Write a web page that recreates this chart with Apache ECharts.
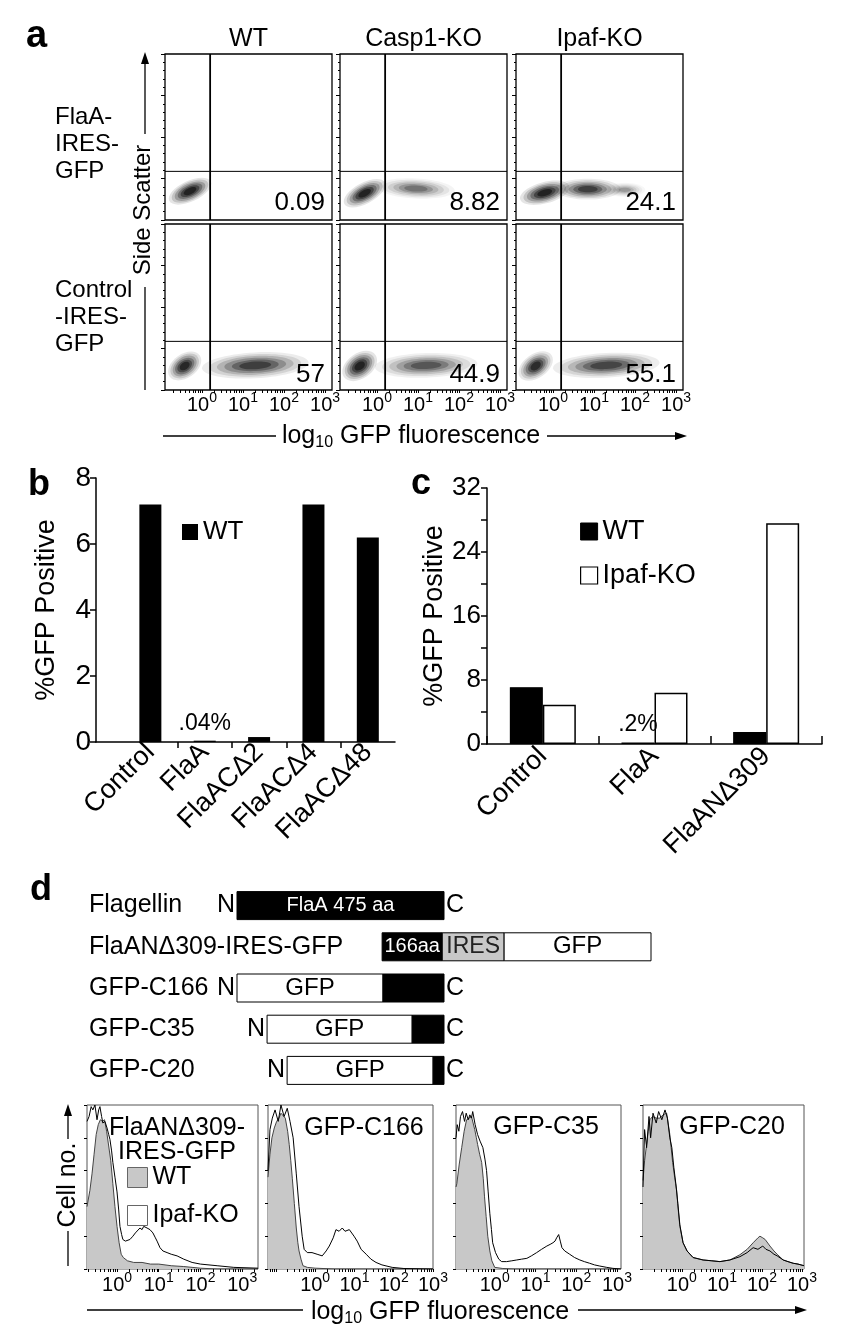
<!DOCTYPE html>
<html>
<head>
<meta charset="utf-8">
<title>Flagellin / Ipaf GFP figure</title>
<script src="https://cdn.jsdelivr.net/npm/echarts@6.0.0/dist/echarts.min.js"></script>
<style>
html,body{margin:0;padding:0;background:#fff;}
#chart{width:848px;height:1338px;}
</style>
</head>
<body>
<div id="chart"></div>
<script>
// ======================= DATA =======================
// ---- Panel a: flow cytometry dot plots ----
const aColumnTitles = ['WT', 'Casp1-KO', 'Ipaf-KO'];
const aRowTitles = ['FlaA-\nIRES-\nGFP', 'Control\n-IRES-\nGFP'];
const aPercentGFP = [['0.09', '8.82', '24.1'], ['57', '44.9', '55.1']];
const aDecades = [0, 1, 2, 3];
const aGateGFPLog = 0.2;
const aGateSSC = 300;
// cell clouds: [log10 GFP centre, side-scatter centre, log10 spread, SSC spread, tilt (deg), relative density]
const aCloudsFlaAWT    = [[-0.29, 178, 0.56, 64, 25, 1.0]];
const aCloudsFlaACasp1 = [[-0.3, 165, 0.56, 64, 28, 1.0], [0.95, 194, 0.95, 62, -3, 0.45]];
const aCloudsFlaAIpaf  = [[-0.2, 168, 0.62, 66, 15, 1.0], [0.85, 190, 0.8, 64, 0, 0.75], [1.75, 186, 0.5, 44, 0, 0.3]];
const aCloudsCtrlWT    = [[-0.42, 148, 0.45, 74, 35, 0.95], [1.3, 152, 1.3, 80, 3, 0.75]];
const aCloudsCtrlCasp1 = [[-0.42, 148, 0.47, 78, 35, 1.0], [1.2, 152, 1.25, 76, 2, 0.6]];
const aCloudsCtrlIpaf  = [[-0.42, 148, 0.47, 74, 35, 0.9], [1.3, 152, 1.3, 76, 3, 0.7]];
const aClouds = [[aCloudsFlaAWT, aCloudsFlaACasp1, aCloudsFlaAIpaf], [aCloudsCtrlWT, aCloudsCtrlCasp1, aCloudsCtrlIpaf]];

// ---- Panel b ----
const bCategories = ['Control', 'FlaA', 'FlaACΔ2', 'FlaACΔ4', 'FlaACΔ48'];
const bWT = [7.2, 0.04, 0.15, 7.2, 6.2];
const bNotes = ['', '.04%', '', '', ''];

// ---- Panel c ----
const cCategories = ['Control', 'FlaA', 'FlaANΔ309'];
const cWT = [7.1, 0.2, 1.5];
const cIpafKO = [4.9, 6.4, 27.6];
const cNotes = ['', '.2%', ''];

// ---- Panel d: constructs (schematic units) ----
const dConstructs = ['Flagellin', 'FlaANΔ309-IRES-GFP', 'GFP-C166', 'GFP-C35', 'GFP-C20'];
const dSegments = [
  [[0, 475, 'FlaA', 'FlaA 475 aa']],
  [[333, 471, 'FlaA', '166aa'], [471, 613, 'IRES', 'IRES'], [613, 950, 'GFP', 'GFP']],
  [[0, 335, 'GFP', 'GFP'], [335, 475, 'FlaA', '']],
  [[69, 402, 'GFP', 'GFP'], [402, 475, 'FlaA', '']],
  [[115, 450, 'GFP', 'GFP'], [450, 475, 'FlaA', '']]
];
const dTermini = [true, false, true, true, true];

// ---- Panel d: histograms [log10 GFP, % of max] ----
const hTitles = ['FlaANΔ309-\nIRES-GFP', 'GFP-C166', 'GFP-C35', 'GFP-C20'];
const h1WT = [[-0.72,38],[-0.65,48],[-0.6,58],[-0.55,70],[-0.5,82],[-0.45,88],[-0.4,91],[-0.35,90],[-0.3,91],[-0.25,84],[-0.2,75],[-0.15,66],[-0.1,52],[-0.05,38],[0,26],[0.05,16],[0.1,9],[0.15,7],[0.25,5],[0.4,4],[0.6,4],[0.8,3],[1.0,3],[1.3,2],[1.6,1.5],[2.0,0.5],[2.4,0],[3.38,0]];
const h1Ipaf = [[-0.72,90],[-0.67,93],[-0.62,99],[-0.58,97],[-0.53,100],[-0.48,91],[-0.44,97],[-0.41,99],[-0.37,93],[-0.34,89],[-0.29,90],[-0.24,86],[-0.2,82],[-0.17,79],[-0.13,72],[-0.1,65],[-0.05,56],[0,47],[0.04,36],[0.07,26],[0.11,21],[0.14,18],[0.2,17],[0.24,17],[0.31,18],[0.38,20],[0.44,22],[0.48,23],[0.55,25],[0.6,24],[0.64,26],[0.68,25],[0.72,25],[0.79,24],[0.86,22],[0.92,19],[0.96,17],[1.03,13],[1.1,11],[1.2,10],[1.3,9],[1.44,8],[1.6,6],[1.8,4],[2.0,3],[2.4,2],[2.8,1],[3.38,0.5]];
const h2WT = [[-1.2,56],[-1.15,70],[-1.1,80],[-1.04,86],[-0.98,90],[-0.92,92],[-0.87,95],[-0.82,94],[-0.76,92],[-0.7,84],[-0.66,76],[-0.62,66],[-0.58,55],[-0.53,40],[-0.48,25],[-0.44,16],[-0.41,11],[-0.36,6],[-0.31,2],[-0.2,1],[0,0.5],[0.5,0],[3.0,0]];
const h2Ipaf = [[-1.2,60],[-1.15,85],[-1.09,92],[-1.02,97],[-0.94,90],[-0.87,100],[-0.79,93],[-0.71,98],[-0.64,90],[-0.56,80],[-0.48,58],[-0.41,38],[-0.33,20],[-0.28,12],[-0.2,10],[-0.08,10],[0.05,9],[0.18,8],[0.28,11],[0.36,14],[0.46,19],[0.53,24],[0.61,23],[0.69,25],[0.76,23],[0.87,24],[0.99,20],[1.07,17],[1.17,12],[1.3,9],[1.42,6],[1.55,4],[1.7,2.5],[1.96,1],[2.26,0.3],[2.9,0],[3.0,0]];
const h3WT = [[-0.95,50],[-0.93,52],[-0.87,64],[-0.81,74],[-0.75,84],[-0.69,91],[-0.63,92],[-0.57,93],[-0.53,89],[-0.49,85],[-0.45,80],[-0.42,76],[-0.37,70],[-0.32,65],[-0.28,55],[-0.25,44],[-0.21,32],[-0.17,20],[-0.12,11],[-0.07,5],[0,1],[0.2,0.3],[0.5,0],[3.1,0]];
const h3Ipaf = [[-0.95,80],[-0.92,88],[-0.88,84],[-0.84,93],[-0.79,96],[-0.74,90],[-0.7,95],[-0.65,91],[-0.61,94],[-0.57,92],[-0.54,96],[-0.48,88],[-0.42,82],[-0.36,78],[-0.29,74],[-0.24,67],[-0.2,60],[-0.16,47],[-0.12,34],[-0.08,24],[-0.05,16],[0.02,10],[0.1,6],[0.17,4.5],[0.29,4.5],[0.42,5],[0.54,5.5],[0.66,6],[0.79,6.5],[0.9,8],[1.03,10],[1.15,12],[1.28,14],[1.36,15],[1.43,16],[1.48,17],[1.52,19],[1.57,21],[1.61,17],[1.65,13],[1.72,11],[1.84,9],[1.96,7],[2.09,5.5],[2.2,4.5],[2.33,3.5],[2.45,2.5],[2.58,1.8],[2.75,1],[2.9,0.4],[3.1,0]];
const h4WT = [[-0.97,54],[-0.93,66],[-0.88,76],[-0.84,84],[-0.8,91],[-0.73,93],[-0.64,92],[-0.55,92],[-0.47,94],[-0.38,95],[-0.3,82],[-0.23,65],[-0.18,56],[-0.13,48],[-0.09,36],[-0.05,26],[0.03,16],[0.13,11],[0.28,7],[0.53,5.5],[0.75,5],[0.95,4.5],[1.2,5.5],[1.45,8.7],[1.63,12],[1.78,16],[1.9,19],[1.95,20],[2.02,19],[2.08,18],[2.2,14],[2.3,11],[2.38,9],[2.53,5.5],[2.65,4.5],[2.78,3.5],[2.9,3],[3.05,2]];
const h4Ipaf = [[-0.97,50],[-0.93,85],[-0.88,74],[-0.82,93],[-0.78,80],[-0.72,95],[-0.64,89],[-0.58,96],[-0.5,91],[-0.42,97],[-0.36,92],[-0.3,80],[-0.25,74],[-0.2,62],[-0.15,52],[-0.1,40],[-0.05,27],[0.03,16],[0.13,11],[0.28,7],[0.53,5.5],[0.75,5],[0.95,4.5],[1.2,5.5],[1.45,7.5],[1.63,10],[1.78,13],[1.9,12],[2.02,14],[2.1,12],[2.2,11],[2.3,9],[2.38,8],[2.53,5.5],[2.65,4.5],[2.78,3.5],[2.9,3],[3.05,2]];
const hWT = [h1WT, h2WT, h3WT, h4WT];
const hIpaf = [h1Ipaf, h2Ipaf, h3Ipaf, h4Ipaf];

// ======================= LAYOUT / STYLE =======================
const FONT = '"Liberation Sans", Arial, Helvetica, sans-serif';
const aLeft = [165, 340, 516], aTop = [54, 224], aW = 167, aH = 166;
const aXRange = [-0.9, 3.17];
const hBoxes = [[87, 171, -0.72, 3.38], [268, 165, -1.2, 3.0], [456, 165, -0.95, 3.1], [643, 161, -0.97, 3.05]];
const hTop = 1105, hH = 164;
const kindStyle = {
  FlaA: {fill: '#000', text: '#fff', size: 20},
  IRES: {fill: '#c8c8c8', text: '#222', size: 23},
  GFP:  {fill: '#fff', text: '#000', size: 24}
};

function logTicks(min, max) {
  const out = [];
  for (let n = -2; n <= 4; n++) for (let k = 1; k <= 9; k++) {
    const v = n + Math.log10(k);
    if (v >= min && v <= max) out.push(+v.toFixed(4));
  }
  return out;
}
const supRich = {s: {fontSize: 14, lineHeight: 14, padding: [0, 0, 13, 0], fontFamily: FONT, color: '#000'}};

const grids = [], xAxes = [], yAxes = [], series = [];
const G = [];
function addText(x, y, text, size, o = {}) {
  G.push({type: 'text', x, y, rotation: o.rot || 0, silent: true, z: 20,
    style: {text, fontSize: size, fontFamily: FONT, fontWeight: o.bold ? 'bold' : 'normal', fill: o.color || '#000',
      textAlign: o.align || 'center', textVerticalAlign: o.valign || 'middle', lineHeight: o.lh, rich: o.rich}});
}
function addLine(x1, y1, x2, y2, w) {
  G.push({type: 'line', silent: true, z: 20, shape: {x1, y1, x2, y2}, style: {stroke: '#000', lineWidth: w || 1.3}});
}
function addArrow(points) {
  G.push({type: 'polygon', silent: true, z: 20, shape: {points}, style: {fill: '#000'}});
}

// ---------- panel a ----------
const cloudLayers = [1, 0.86, 0.72, 0.58, 0.44, 0.3], cloudAlpha = [0.1, 0.14, 0.2, 0.28, 0.38, 0.5];
for (let r = 0; r < 2; r++) {
  for (let c = 0; c < 3; c++) {
    const gi = grids.length;
    grids.push({left: aLeft[c], top: aTop[r], width: aW, height: aH, show: true, borderColor: '#000', borderWidth: 1.3, backgroundColor: '#fff'});
    xAxes.push({gridIndex: gi, type: 'value', min: aXRange[0], max: aXRange[1],
      axisLine: {show: false, onZero: false}, splitLine: {show: false},
      axisTick: r === 1 ? {show: true, customValues: logTicks(aXRange[0], aXRange[1]), length: 3, lineStyle: {color: '#000'}} : {show: false},
      axisLabel: r === 1 ? {show: true, customValues: aDecades, formatter: v => '10{s|' + v + '}', fontSize: 20, color: '#000', fontFamily: FONT, margin: 5, rich: supRich} : {show: false}});
    yAxes.push({gridIndex: gi, type: 'value', min: 0, max: 1024, interval: 256,
      axisLine: {show: false, onZero: false}, splitLine: {show: false}, axisLabel: {show: false},
      axisTick: {show: true, length: 4, lineStyle: {color: '#000'}},
      minorTick: {show: true, splitNumber: 5, length: 2, lineStyle: {color: '#000'}}});
    series.push({type: 'custom', xAxisIndex: gi, yAxisIndex: gi, clip: true, silent: true,
      data: aClouds[r][c],
      encode: {x: 0, y: 1},
      renderItem: (params, api) => {
        const p = api.coord([api.value(0), api.value(1)]);
        const sz = api.size([api.value(2), api.value(3)]);
        const ang = api.value(4) * Math.PI / 180, d = api.value(5);
        return {type: 'group', children: cloudLayers.map((s, i) => ({
          type: 'ellipse', x: p[0], y: p[1], rotation: ang,
          shape: {cx: 0, cy: 0, rx: sz[0] * s, ry: sz[1] * s},
          style: {fill: 'rgba(0,0,0,' + Math.min(1, cloudAlpha[i] * d).toFixed(3) + ')'}}))};
      }});
    series.push({type: 'line', xAxisIndex: gi, yAxisIndex: gi, silent: true, symbol: 'none',
      data: [[aGateGFPLog, 0], [aGateGFPLog, 1024]], lineStyle: {color: '#000', width: 1.8}, z: 5});
    series.push({type: 'line', xAxisIndex: gi, yAxisIndex: gi, silent: true, symbol: 'none',
      data: [[aXRange[0], aGateSSC], [aXRange[1], aGateSSC]], lineStyle: {color: '#000', width: 1}, z: 5});
    addText(aLeft[c] + aW - 7, aTop[r] + aH - (r === 0 ? 17 : 15), aPercentGFP[r][c], 26, {align: 'right'});
  }
}
aColumnTitles.forEach((t, c) => addText(aLeft[c] + aW / 2, 39, t, 25));
addText(55, 144, aRowTitles[0], 24, {align: 'left', lh: 27});
addText(55, 317, aRowTitles[1], 24, {align: 'left', lh: 27});
addText(26, 37, 'a', 38, {align: 'left', bold: true});
addText(143, 210, 'Side Scatter', 24, {rot: Math.PI / 2});
addLine(145, 62, 145, 134); addArrow([[145, 52], [141, 64], [149, 64]]);
addLine(145, 287, 145, 390);
addText(411, 436, 'log{sub|10} GFP fluorescence', 25, {rich: {sub: {fontSize: 16, lineHeight: 16, padding: [14, 0, 0, 0], fontFamily: FONT, color: '#000'}}});
addLine(163, 436, 276, 436); addLine(547, 436, 678, 436); addArrow([[687, 436], [675, 432], [675, 440]]);

// ---------- panel b ----------
{
  const gi = grids.length;
  grids.push({left: 96, top: 478, width: 299, height: 264});
  xAxes.push({gridIndex: gi, type: 'value', min: -1, max: 4.5, splitLine: {show: false},
    axisLine: {show: true, onZero: false, lineStyle: {color: '#000', width: 1.5}},
    axisTick: {show: true, customValues: [0.5, 1.5, 2.5, 3.5], length: 6, lineStyle: {color: '#000', width: 1.5}},
    axisLabel: {customValues: bCategories.map((_, i) => i), formatter: v => bCategories[Math.round(v)], rotate: 45, fontSize: 27, color: '#000', fontFamily: FONT, margin: 6}});
  yAxes.push({gridIndex: gi, type: 'value', min: 0, max: 8, interval: 2, splitLine: {show: false},
    axisLine: {show: true, onZero: false, lineStyle: {color: '#000', width: 1.5}},
    axisTick: {show: true, length: 6, lineStyle: {color: '#000', width: 1.5}},
    axisLabel: {fontSize: 28, color: '#000', fontFamily: FONT, margin: 5},
    name: '%GFP Positive', nameLocation: 'middle', nameGap: 36, nameTextStyle: {fontSize: 27, color: '#000', fontFamily: FONT}});
  series.push({type: 'bar', name: 'WT', xAxisIndex: gi, yAxisIndex: gi, barWidth: 22, itemStyle: {color: '#000'},
    data: bWT.map((v, i) => ({value: [i, v], label: bNotes[i] ? {show: true, position: 'top', distance: 6, formatter: bNotes[i], fontSize: 23, color: '#000', fontFamily: FONT} : {show: false}}))});
}
addText(28, 485, 'b', 36, {align: 'left', bold: true});

// ---------- panel c ----------
{
  const gi = grids.length;
  grids.push({left: 487, top: 488, width: 335, height: 256});
  xAxes.push({gridIndex: gi, type: 'category', data: cCategories, splitLine: {show: false},
    axisLine: {show: true, onZero: false, lineStyle: {color: '#000', width: 1.5}},
    axisTick: {show: true, inside: true, length: 8, lineStyle: {color: '#000', width: 1.5}},
    axisLabel: {rotate: 45, fontSize: 27, color: '#000', fontFamily: FONT, margin: 8, interval: 0}});
  yAxes.push({gridIndex: gi, type: 'value', min: 0, max: 32, interval: 4, splitLine: {show: false},
    axisLine: {show: true, onZero: false, lineStyle: {color: '#000', width: 1.5}},
    axisTick: {show: true, length: 6, lineStyle: {color: '#000', width: 1.5}},
    axisLabel: {fontSize: 26, color: '#000', fontFamily: FONT, margin: 6, formatter: v => (v % 8 === 0 ? String(v) : '')},
    name: '%GFP Positive', nameLocation: 'middle', nameGap: 35, nameTextStyle: {fontSize: 27, color: '#000', fontFamily: FONT}});
  series.push({type: 'bar', name: 'WT', xAxisIndex: gi, yAxisIndex: gi, barWidth: 33, barGap: '0%', itemStyle: {color: '#000', borderColor: '#000', borderWidth: 1.2},
    data: cWT.map((v, i) => ({value: v, label: cNotes[i] ? {show: true, position: 'top', distance: 6, formatter: cNotes[i], fontSize: 23, color: '#000', fontFamily: FONT} : {show: false}}))});
  series.push({type: 'bar', name: 'Ipaf-KO', xAxisIndex: gi, yAxisIndex: gi, barWidth: 33, barGap: '0%', itemStyle: {color: '#fff', borderColor: '#000', borderWidth: 1.5},
    data: cIpafKO});
}
addText(411, 484, 'c', 36, {align: 'left', bold: true});

// ---------- panel d: constructs ----------
{
  const gi = grids.length;
  grids.push({left: 237, top: 885, width: 414, height: 206});
  xAxes.push({gridIndex: gi, type: 'value', min: 0, max: 950, show: false});
  yAxes.push({gridIndex: gi, type: 'category', data: dConstructs, inverse: true,
    axisLine: {show: false}, axisTick: {show: false}, splitLine: {show: false},
    axisLabel: {align: 'left', margin: 148, fontSize: 25, color: '#000', fontFamily: FONT}});
  const segData = [];
  dSegments.forEach((row, ri) => row.forEach(s => segData.push({value: [s[0], s[1], ri], kind: s[2], text: s[3]})));
  series.push({type: 'custom', xAxisIndex: gi, yAxisIndex: gi, silent: true, data: segData, encode: {x: [0, 1], y: 2},
    renderItem: (params, api) => {
      const item = segData[params.dataIndex];
      const st = kindStyle[item.kind];
      const p0 = api.coord([api.value(0), api.value(2)]);
      const p1 = api.coord([api.value(1), api.value(2)]);
      const h = 28;
      return {type: 'rect', shape: {x: p0[0], y: p0[1] - h / 2, width: p1[0] - p0[0], height: h},
        style: {fill: st.fill, stroke: '#000', lineWidth: 1},
        textContent: {style: {text: item.text, fill: st.text, fontSize: st.size, fontFamily: FONT}},
        textConfig: {position: 'inside'}};
    }});
  const termData = [];
  dSegments.forEach((row, ri) => { if (dTermini[ri]) termData.push([row[0][0], row[row.length - 1][1], ri]); });
  series.push({type: 'custom', xAxisIndex: gi, yAxisIndex: gi, silent: true, data: termData, encode: {x: [0, 1], y: 2},
    renderItem: (params, api) => {
      const p0 = api.coord([api.value(0), api.value(2)]);
      const p1 = api.coord([api.value(1), api.value(2)]);
      return {type: 'group', children: [
        {type: 'text', x: p0[0] - 2, y: p0[1], style: {text: 'N', textAlign: 'right', textVerticalAlign: 'middle', fontSize: 25, fontFamily: FONT, fill: '#000'}},
        {type: 'text', x: p1[0] + 2, y: p1[1], style: {text: 'C', textAlign: 'left', textVerticalAlign: 'middle', fontSize: 25, fontFamily: FONT, fill: '#000'}}
      ]};
    }});
}
addText(30, 890, 'd', 36, {align: 'left', bold: true});

// ---------- panel d: histograms ----------
hBoxes.forEach((b, k) => {
  const gi = grids.length;
  grids.push({left: b[0], top: hTop, width: b[1], height: hH, show: true, borderColor: '#555', borderWidth: 1});
  xAxes.push({gridIndex: gi, type: 'value', min: b[2], max: b[3], axisLine: {show: false, onZero: false}, splitLine: {show: false},
    axisTick: {show: true, customValues: logTicks(b[2], b[3]), length: 3, lineStyle: {color: '#000'}},
    axisLabel: {customValues: aDecades, formatter: v => '10{s|' + v + '}', fontSize: 20, color: '#000', fontFamily: FONT, margin: 6, rich: supRich}});
  yAxes.push({gridIndex: gi, type: 'value', min: 0, max: 100, interval: 20, axisLine: {show: false, onZero: false}, splitLine: {show: false},
    axisLabel: {show: false}, axisTick: {show: true, length: 3, lineStyle: {color: '#000'}}});
  series.push({type: 'line', name: 'WT', xAxisIndex: gi, yAxisIndex: gi, silent: true, symbol: 'none', z: 2,
    data: hWT[k], lineStyle: {color: '#444', width: 1}, areaStyle: {color: '#c8c8c8', opacity: 1}});
  series.push({type: 'line', name: 'Ipaf-KO', xAxisIndex: gi, yAxisIndex: gi, silent: true, symbol: 'none', z: 3,
    data: hIpaf[k], lineStyle: {color: '#000', width: 1}});
});
addText(177, 1140, hTitles[0], 25, {lh: 24});
addText(364, 1128, hTitles[1], 25);
addText(546, 1127, hTitles[2], 25);
addText(732, 1127, hTitles[3], 25);
addText(68, 1185, 'Cell no.', 25, {rot: Math.PI / 2});
addLine(68, 1114, 68, 1139); addArrow([[68, 1104], [64, 1116], [72, 1116]]);
addLine(68, 1231, 68, 1266);
addText(440, 1312, 'log{sub|10} GFP fluorescence', 25, {rich: {sub: {fontSize: 16, lineHeight: 16, padding: [14, 0, 0, 0], fontFamily: FONT, color: '#000'}}});
addLine(87, 1310, 303, 1310); addLine(578, 1310, 797, 1310); addArrow([[807, 1310], [795, 1306], [795, 1314]]);

const option = {
  animation: false,
  backgroundColor: '#fff',
  textStyle: {fontFamily: FONT, color: '#000'},
  grid: grids, xAxis: xAxes, yAxis: yAxes, series,
  legend: [
    {data: [{name: 'WT', icon: 'rect', itemStyle: {color: '#000'}}], left: 182, top: 519, padding: 0,
      itemWidth: 16, itemHeight: 16, selectedMode: false, textStyle: {fontSize: 26, color: '#000', fontFamily: FONT}},
    {data: [{name: 'WT', icon: 'rect', itemStyle: {color: '#000', borderColor: '#000', borderWidth: 1}},
            {name: 'Ipaf-KO', icon: 'rect', itemStyle: {color: '#fff', borderColor: '#000', borderWidth: 1.2}}],
      orient: 'vertical', left: 580, top: 518, padding: 0, itemGap: 17, itemWidth: 17, itemHeight: 17, selectedMode: false,
      textStyle: {fontSize: 27, color: '#000', fontFamily: FONT}},
    {data: [{name: 'WT', icon: 'rect', itemStyle: {color: '#c8c8c8', borderColor: '#666', borderWidth: 1}},
            {name: 'Ipaf-KO', icon: 'rect', itemStyle: {color: '#fff', borderColor: '#666', borderWidth: 1}}],
      orient: 'vertical', left: 127, top: 1165, padding: 0, itemGap: 13, itemWidth: 20, itemHeight: 20, selectedMode: false,
      textStyle: {fontSize: 25, color: '#000', fontFamily: FONT}}
  ],
  graphic: {elements: G}
};
const chart = echarts.init(document.getElementById('chart'), null, {renderer: 'canvas'});
chart.setOption(option);
</script>
</body>
</html>
